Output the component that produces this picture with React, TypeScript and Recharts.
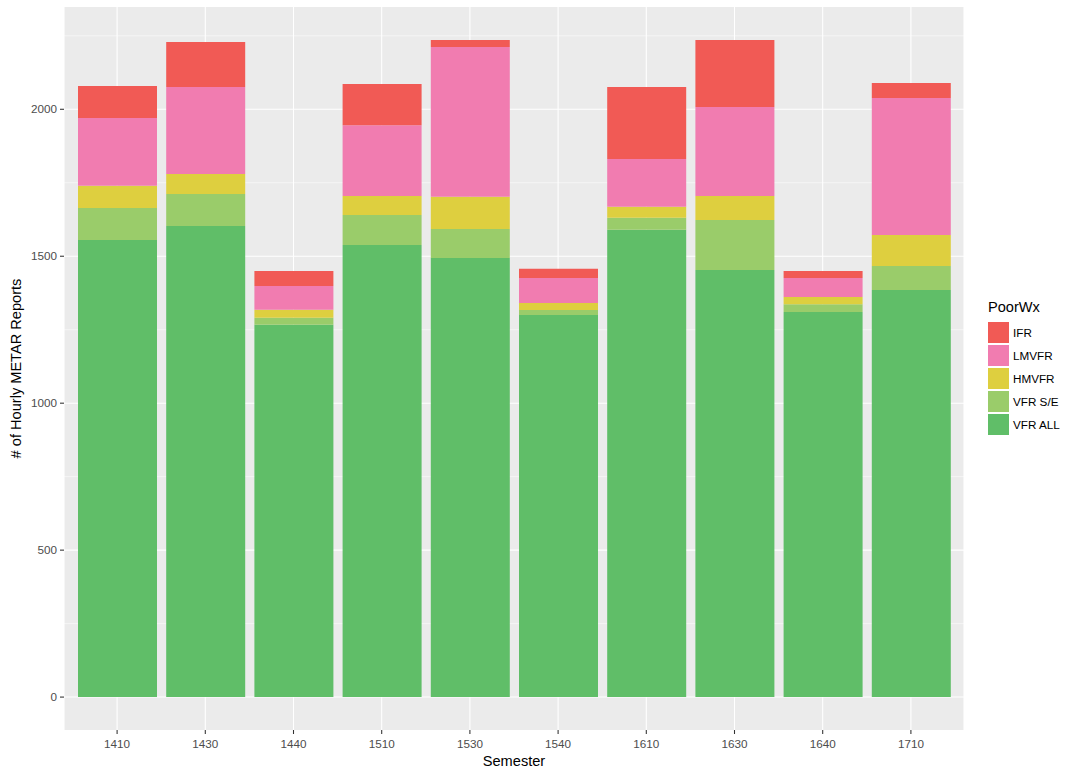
import {
    Bar,
    BarChart,
    CartesianGrid,
    Legend,
    XAxis,
    YAxis,
} from 'recharts';

const semesters = ['1410', '1430', '1440', '1510', '1530', '1540', '1610', '1630', '1640', '1710'];
const vfrAll = [1555, 1603, 1267, 1538, 1494, 1300, 1590, 1453, 1310, 1385];
const vfrSE = [109, 109, 24, 102, 99, 17, 41, 170, 27, 82];
const hmvfr = [76, 68, 27, 65, 109, 24, 37, 82, 24, 105];
const lmvfr = [230, 296, 81, 241, 510, 85, 163, 303, 65, 466];
const ifr = [109, 153, 51, 140, 24, 31, 245, 228, 24, 51];

const yTicks = [0, 500, 1000, 1500, 2000];
const yMinorTicks = [250, 750, 1250, 1750, 2250];

const seriesColors = {
    vfrAll: '#60BE68',
    vfrSE: '#9ACC6A',
    hmvfr: '#DECF3F',
    lmvfr: '#F17CB0',
    ifr: '#F15A55',
};

// legend reads top to bottom, opposite of the stacking order
const legendItems = [
    { label: 'IFR', color: seriesColors.ifr },
    { label: 'LMVFR', color: seriesColors.lmvfr },
    { label: 'HMVFR', color: seriesColors.hmvfr },
    { label: 'VFR S/E', color: seriesColors.vfrSE },
    { label: 'VFR ALL', color: seriesColors.vfrAll },
];

const data = semesters.map((semester, i) => ({
    semester,
    vfrAll: vfrAll[i],
    vfrSE: vfrSE[i],
    hmvfr: hmvfr[i],
    lmvfr: lmvfr[i],
    ifr: ifr[i],
}));

const font = '"Liberation Sans", Arial, sans-serif';
const tickStyle = { fill: '#4D4D4D', fontSize: 11.7, fontFamily: font };

const PoorWxLegend = () => (
    <div style={{ fontFamily: font }}>
        <div style={{ fontSize: 14.6, lineHeight: '17px', color: '#000', marginBottom: 5 }}>
            PoorWx
        </div>
        {legendItems.map((item) => (
            <div
                key={item.label}
                style={{ display: 'flex', alignItems: 'center', height: 23 }}
            >
                <div style={{ width: 21, height: 21, background: item.color }} />
                <span style={{ marginLeft: 4, fontSize: 11.7, color: '#000' }}>
                    {item.label}
                </span>
            </div>
        ))}
    </div>
);

export default function App() {
    return (
        <div style={{ position: 'absolute', left: 0, top: 0, width: 1075, height: 774, background: '#fff' }}>
            <BarChart
                width={1075}
                height={774}
                data={data}
                margin={{ top: 7, right: 111, bottom: 0, left: 14 }}
                style={{ fontFamily: font }}
            >
                <CartesianGrid
                    fill="#EBEBEB"
                    stroke="#FFFFFF"
                    strokeWidth={0.53}
                    vertical={false}
                    horizontalValues={yMinorTicks}
                />
                <CartesianGrid
                    fill="none"
                    stroke="#FFFFFF"
                    strokeWidth={1.07}
                    horizontalValues={yTicks}
                />
                <XAxis
                    dataKey="semester"
                    height={44}
                    padding={{ left: 9, right: 9 }}
                    axisLine={false}
                    tickLine={{ stroke: '#333333', strokeWidth: 1.07 }}
                    tickSize={4}
                    tickMargin={6}
                    tick={tickStyle}
                    interval={0}
                    label={({ viewBox }: any) => (
                        <text
                            x={viewBox.x + viewBox.width / 2}
                            y={766}
                            textAnchor="middle"
                            fontSize={14.6}
                            fontFamily={font}
                            fill="#000"
                        >
                            Semester
                        </text>
                    )}
                />
                <YAxis
                    type="number"
                    width={50}
                    domain={[-112, 2348]}
                    ticks={yTicks}
                    axisLine={false}
                    tickLine={{ stroke: '#333333', strokeWidth: 1.07 }}
                    tickSize={4}
                    tickMargin={3}
                    tick={tickStyle}
                    label={({ viewBox }: any) => (
                        <text
                            x={21}
                            y={viewBox.y + viewBox.height / 2}
                            transform={`rotate(-90 21 ${viewBox.y + viewBox.height / 2})`}
                            textAnchor="middle"
                            fontSize={14.6}
                            fontFamily={font}
                            fill="#000"
                        >
                            # of Hourly METAR Reports
                        </text>
                    )}
                />
                <Legend
                    layout="vertical"
                    align="center"
                    verticalAlign="middle"
                    content={() => <PoorWxLegend />}
                    wrapperStyle={{ left: 988, top: 299, width: 90 }}
                />
                <Bar dataKey="vfrAll" name="VFR ALL" stackId="wx" barSize={79} fill={seriesColors.vfrAll} isAnimationActive={false} />
                <Bar dataKey="vfrSE" name="VFR S/E" stackId="wx" barSize={79} fill={seriesColors.vfrSE} isAnimationActive={false} />
                <Bar dataKey="hmvfr" name="HMVFR" stackId="wx" barSize={79} fill={seriesColors.hmvfr} isAnimationActive={false} />
                <Bar dataKey="lmvfr" name="LMVFR" stackId="wx" barSize={79} fill={seriesColors.lmvfr} isAnimationActive={false} />
                <Bar dataKey="ifr" name="IFR" stackId="wx" barSize={79} fill={seriesColors.ifr} isAnimationActive={false} />
            </BarChart>
        </div>
    );
}
